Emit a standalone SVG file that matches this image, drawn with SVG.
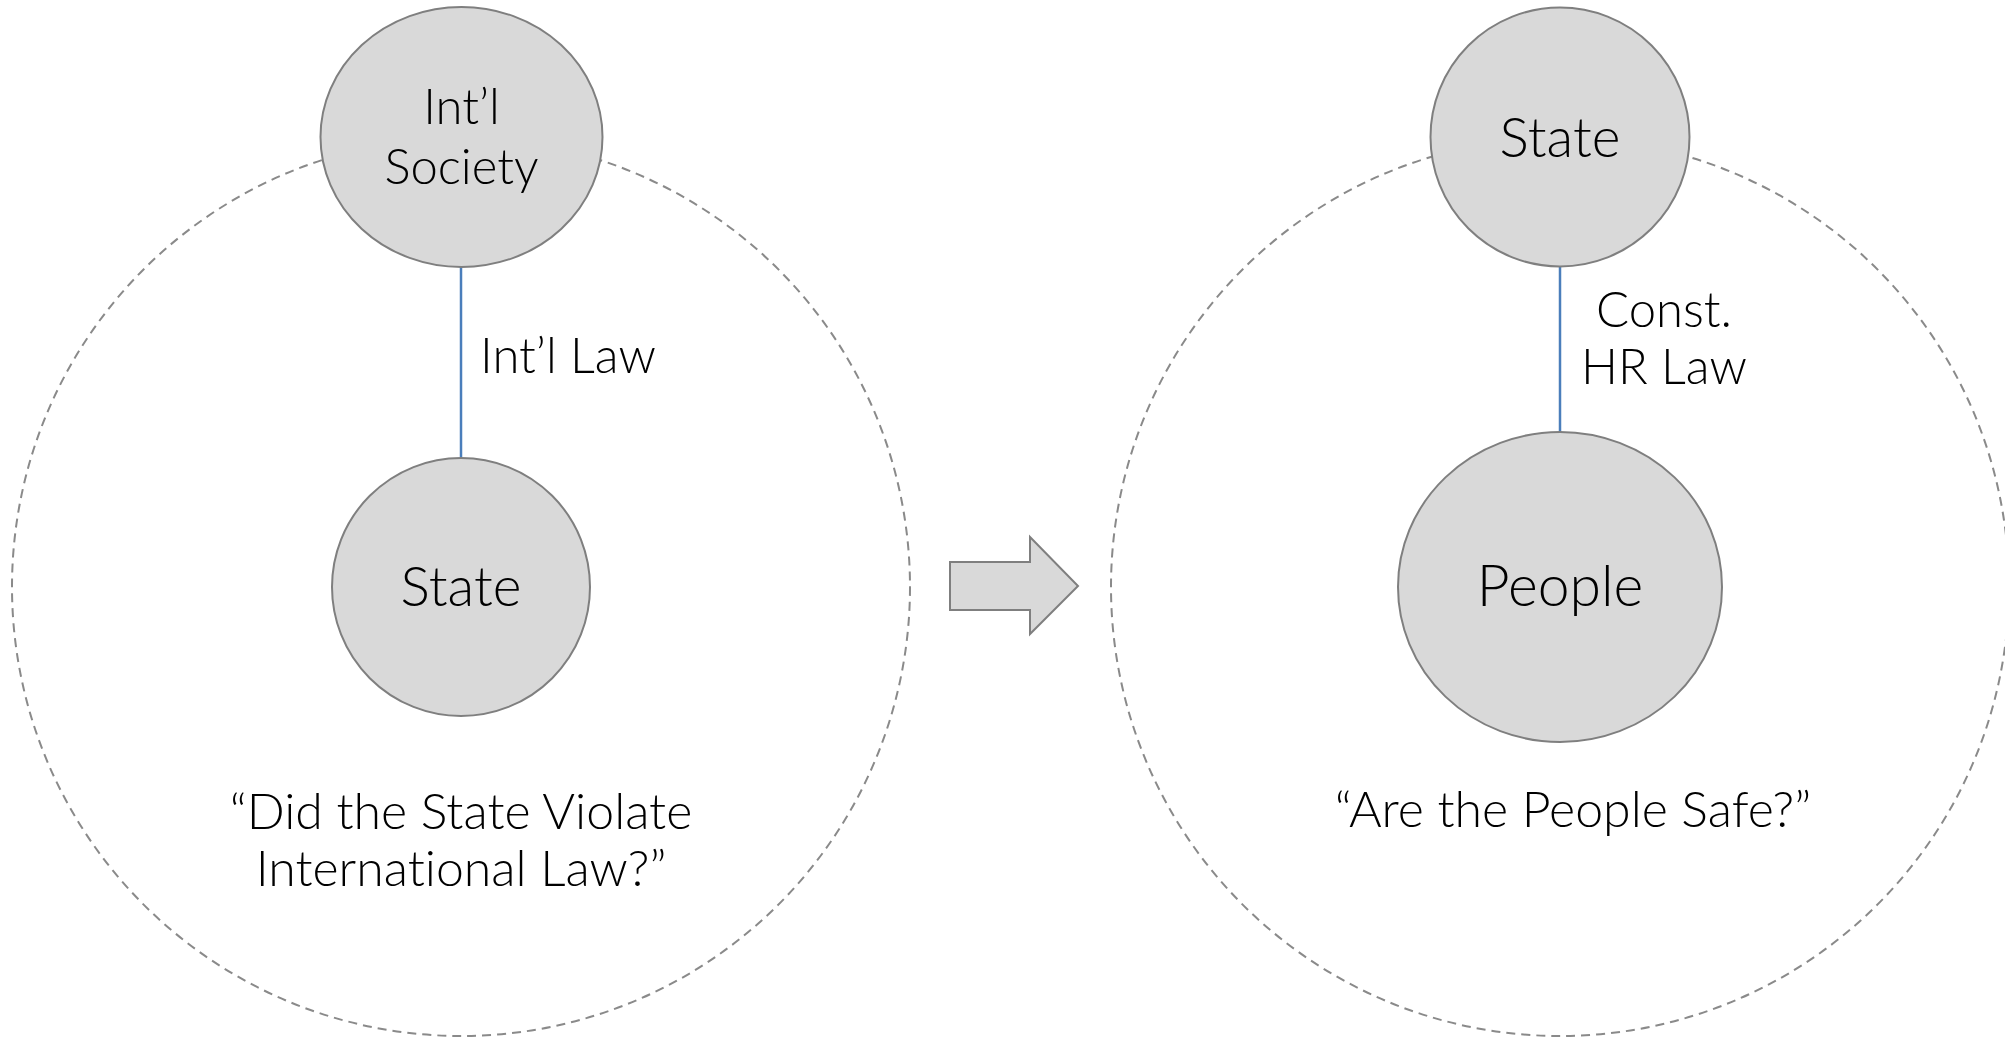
<svg xmlns="http://www.w3.org/2000/svg" width="2005" height="1037" viewBox="0 0 2005 1037">
<style>
.frame{fill:none;stroke:#8a8a8a;stroke-width:2;stroke-dasharray:9 6}
.node{fill:#d9d9d9;stroke:#7f7f7f;stroke-width:2}
.link{stroke:#4a7ebb;stroke-width:2.5;fill:none}
text{font-family:Lato,"Open Sans","Liberation Sans",sans-serif;font-weight:300;fill:#000;text-anchor:middle;font-variant-ligatures:none}
.n{font-size:55px}
.s{font-size:49px}
.l{font-size:49px}
.q{font-size:50px}
</style>
<rect width="2005" height="1037" fill="#fff"/>
<g id="frames">
<circle class="frame" cx="461" cy="587" r="449"/>
<circle class="frame" cx="1560" cy="587" r="449"/>
</g>
<g id="connectors">
<line class="link" x1="461" y1="267" x2="461" y2="457"/>
<line class="link" x1="1560" y1="267" x2="1560" y2="432"/>
</g>
<g id="intl-society">
<ellipse class="node" cx="461.5" cy="137" rx="141" ry="130"/>
<text class="s" x="461.5" y="124">Int’l</text>
<text class="s" x="461.5" y="184">Society</text>
</g>
<g id="state-left">
<circle class="node" cx="461" cy="587" r="129"/>
<text class="n" x="461" y="606">State</text>
</g>
<g id="state-right">
<circle class="node" cx="1560" cy="137" r="129.5"/>
<text class="n" x="1560" y="157">State</text>
</g>
<g id="people">
<ellipse class="node" cx="1560" cy="587" rx="162" ry="155"/>
<text class="n" x="1560" y="606" style="font-size:57px">People</text>
</g>
<g id="labels">
<text class="l" x="568" y="373">Int’l Law</text>
<text class="l" x="1664" y="327">Const.</text>
<text class="l" x="1664" y="384">HR Law</text>
<text class="q" x="461" y="829">“Did the State Violate</text>
<text class="q" x="461" y="886">International Law?”</text>
<text class="q" x="1573" y="827">“Are the People Safe?”</text>
</g>
<g id="transition-arrow">
<polygon class="node" points="950,562 1030,562 1030,537 1078,586 1030,634 1030,610 950,610"/>
</g>
</svg>
